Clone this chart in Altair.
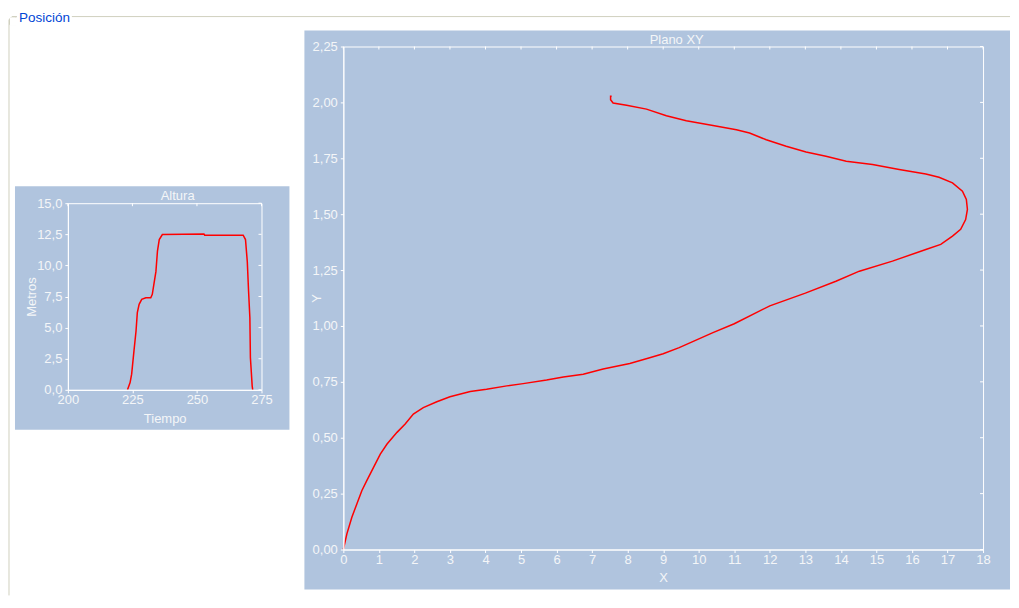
import altair as alt
import pandas as pd

# ---- data ----
tiempo = [223.1, 224.1, 224.7, 225.6, 226.4, 226.9, 227.6, 228.6, 230.2, 232.1, 232.7, 233.4, 234.1,
          234.7, 235.4, 236.6, 252.7, 253.0, 267.9, 268.8, 269.5, 270.0, 270.5, 270.7, 271.4, 271.6]
altura = [0.0, 0.58, 1.26, 3.13, 4.73, 6.2, 6.87, 7.27, 7.4, 7.4, 7.67, 8.6, 9.5,
          11.15, 12.08, 12.48, 12.53, 12.43, 12.43, 12.08, 10.3, 7.9, 5.8, 2.6, 0.3, 0.0]

pos_x = [0.0, 0.10, 0.24, 0.38, 0.52, 0.66, 0.85, 1.04, 1.23, 1.51, 1.74, 1.97, 2.25, 2.63, 3.00,
         3.57, 4.03, 4.60, 5.06, 5.72, 6.19, 6.75, 7.31, 8.06, 8.62, 9.0, 9.45, 10.4, 11.0, 12.0,
         13.0, 13.86, 14.52, 15.45, 16.39, 16.81, 17.14, 17.37, 17.51, 17.56, 17.53, 17.42, 17.14,
         16.76, 16.39, 15.64, 14.89, 14.15, 13.58, 13.02, 12.46, 11.90, 11.43, 11.06, 10.40, 9.65,
         9.09, 8.53, 7.97, 7.59, 7.52, 7.52, 7.55]
pos_y = [0.0, 0.07, 0.144, 0.204, 0.263, 0.308, 0.367, 0.427, 0.472, 0.524, 0.561, 0.606, 0.635,
         0.661, 0.683, 0.707, 0.717, 0.732, 0.742, 0.758, 0.772, 0.784, 0.807, 0.832, 0.858, 0.876,
         0.903, 0.97, 1.01, 1.09, 1.147, 1.20, 1.245, 1.29, 1.342, 1.365, 1.402, 1.432, 1.476,
         1.521, 1.566, 1.603, 1.640, 1.665, 1.680, 1.70, 1.722, 1.737, 1.759, 1.778, 1.804, 1.833,
         1.863, 1.878, 1.897, 1.918, 1.94, 1.970, 1.987, 1.997, 2.012, 2.027, 2.027]

alt_x_ticks = [200, 225, 250, 275]
alt_y_ticks = [0, 2.5, 5, 7.5, 10, 12.5, 15]
xy_x_ticks = list(range(0, 19))
xy_y_ticks = [0, 0.25, 0.5, 0.75, 1.0, 1.25, 1.5, 1.75, 2.0, 2.25]

# ---- style ----
PANEL = "#B0C4DE"
LBL = "#F4F6F8"
FONT = "Liberation Sans"
FS = 13
BOXLINE = "#D0D0BF"
BLUE = "#0046D5"

df_alt = pd.DataFrame({"t": tiempo, "h": altura, "i": list(range(len(tiempo)))})
df_xy = pd.DataFrame({"x": pos_x, "y": pos_y, "i": list(range(len(pos_x)))})
one = pd.DataFrame({"k": [0]})

SW, SH, STOP = 194, 344, 157
BW, BH = 641, 504


def axis(values, title, expr, **kw):
    return alt.Axis(values=values, title=title, labelExpr=expr, grid=False, tickSize=3,
                    labelFlush=False, labelOverlap=False, labelSeparation=0,
                    domainColor="white", tickColor="white",
                    labelColor=LBL, titleColor=LBL, labelFont=FONT, labelFontSize=FS,
                    titleFont=FONT, titleFontSize=FS, titleFontWeight="normal",
                    titleAlign="center", titleBaseline="middle", zindex=1, **kw)


def vrect(x, x2, y, y2, **kw):
    return alt.Chart(one).mark_rect(**kw).encode(
        x=alt.value(x), x2=alt.value(x2), y=alt.value(y), y2=alt.value(y2))


def hrule(x, x2, y, color):
    return alt.Chart(one).mark_rule(color=color, strokeWidth=1).encode(
        x=alt.value(x), x2=alt.value(x2), y=alt.value(y))


def vrule(x, y, y2, color):
    return alt.Chart(one).mark_rule(color=color, strokeWidth=1).encode(
        x=alt.value(x), y=alt.value(y), y2=alt.value(y2))


# ---- small chart: Altura ----
xs = alt.Scale(domain=[200, 275], nice=False, zero=False)
ys = alt.Scale(domain=[0, 15], range=[SH, STOP], nice=False, zero=False)

ax_xs = axis(alt_x_ticks, "Tiempo", "format(datum.value, 'd')", labelPadding=1, titleY=29)
ax_ys = axis(alt_y_ticks, "Metros", "replace(format(datum.value, '.1f'), '.', ',')",
             labelPadding=3, titleX=-36, titleY=(SH + STOP) / 2, titleAngle=270)

small_line = alt.Chart(df_alt).mark_line(color="#FF0000", strokeWidth=1.5).encode(
    x=alt.X("t:Q", scale=xs, axis=ax_xs, title="Tiempo"),
    y=alt.Y("h:Q", scale=ys, axis=ax_ys, title="Metros"),
    order="i:Q",
)
small_top = alt.Chart(pd.DataFrame({"v": alt_x_ticks})).mark_rule(color="white").encode(
    x=alt.X("v:Q", scale=xs, axis=ax_xs, title="Tiempo"),
    y=alt.value(STOP), y2=alt.value(STOP + 3))
small_right = alt.Chart(pd.DataFrame({"v": alt_y_ticks})).mark_rule(color="white").encode(
    y=alt.Y("v:Q", scale=ys, axis=ax_ys, title="Metros"),
    x=alt.value(SW - 3), x2=alt.value(SW))
small_title = alt.Chart(one).mark_text(text="Altura", font=FONT, fontSize=FS, color=LBL,
                                       baseline="middle", align="center").encode(
    x=alt.value(110), y=alt.value(STOP - 7))
pos_label = alt.Chart(one).mark_text(text="Posición", font=FONT, fontSize=13.5, color=BLUE,
                                     baseline="middle", align="left").encode(
    x=alt.value(-49), y=alt.value(-29))

small = alt.layer(
    vrect(-59, 944, -37, 550, fill="white"),
    hrule(-56, -51, -30, BOXLINE),
    hrule(4, 944, -30, BOXLINE),
    vrule(-59, -27, 550, BOXLINE),
    vrect(-58.5, -52, -29.5, -22, fillOpacity=0, stroke=BOXLINE, strokeWidth=1,
          cornerRadiusTopLeft=3),
    vrect(-58, -50, -29, -21, fill="white"),
    pos_label,
    vrect(-53, 222, 140, 384, fill=PANEL),
    small_line,
    vrect(0.5, SW + 0.5, STOP + 0.5, SH + 0.5, fillOpacity=0, stroke="white", strokeWidth=1),
    small_top,
    small_right,
    small_title,
).properties(width=SW, height=SH, view=alt.ViewBackground(stroke="transparent"))

# ---- big chart: Plano XY ----
xb = alt.Scale(domain=[0, 18], nice=False, zero=False)
yb = alt.Scale(domain=[0, 2.25], nice=False, zero=False)

ax_xb = axis(xy_x_ticks, "X", "format(datum.value, 'd')", labelPadding=1, titleY=28)
ax_yb = axis(xy_y_ticks, "Y", "replace(format(datum.value, '.2f'), '.', ',')",
             labelPadding=3, titleX=-27, titleY=BH / 2, titleAngle=270)

big_line = alt.Chart(df_xy).mark_line(color="#FF0000", strokeWidth=1.5).encode(
    x=alt.X("x:Q", scale=xb, axis=ax_xb, title="X"),
    y=alt.Y("y:Q", scale=yb, axis=ax_yb, title="Y"),
    order="i:Q",
)
big_top = alt.Chart(pd.DataFrame({"v": xy_x_ticks})).mark_rule(color="white").encode(
    x=alt.X("v:Q", scale=xb, axis=ax_xb, title="X"), y=alt.value(0), y2=alt.value(3))
big_right = alt.Chart(pd.DataFrame({"v": xy_y_ticks})).mark_rule(color="white").encode(
    y=alt.Y("v:Q", scale=yb, axis=ax_yb, title="Y"), x=alt.value(BW - 3), x2=alt.value(BW))
big_title = alt.Chart(one).mark_text(text="Plano XY", font=FONT, fontSize=FS, color=LBL,
                                     baseline="middle", align="center").encode(
    x=alt.value(334), y=alt.value(-7))

big = alt.layer(
    vrect(-39, 668, -16, 544, fill=PANEL),
    big_line,
    vrect(0.5, BW + 0.5, 0.5, BH + 0.5, fillOpacity=0, stroke="white", strokeWidth=1),
    big_top,
    big_right,
    big_title,
).properties(width=BW, height=BH, view=alt.ViewBackground(stroke="transparent"))

chart = alt.hconcat(small, big, spacing=82, bounds="flush").properties(
    padding=0, background="white"
)

chart.save("out.html", embed_options={"renderer": "svg", "actions": False})
